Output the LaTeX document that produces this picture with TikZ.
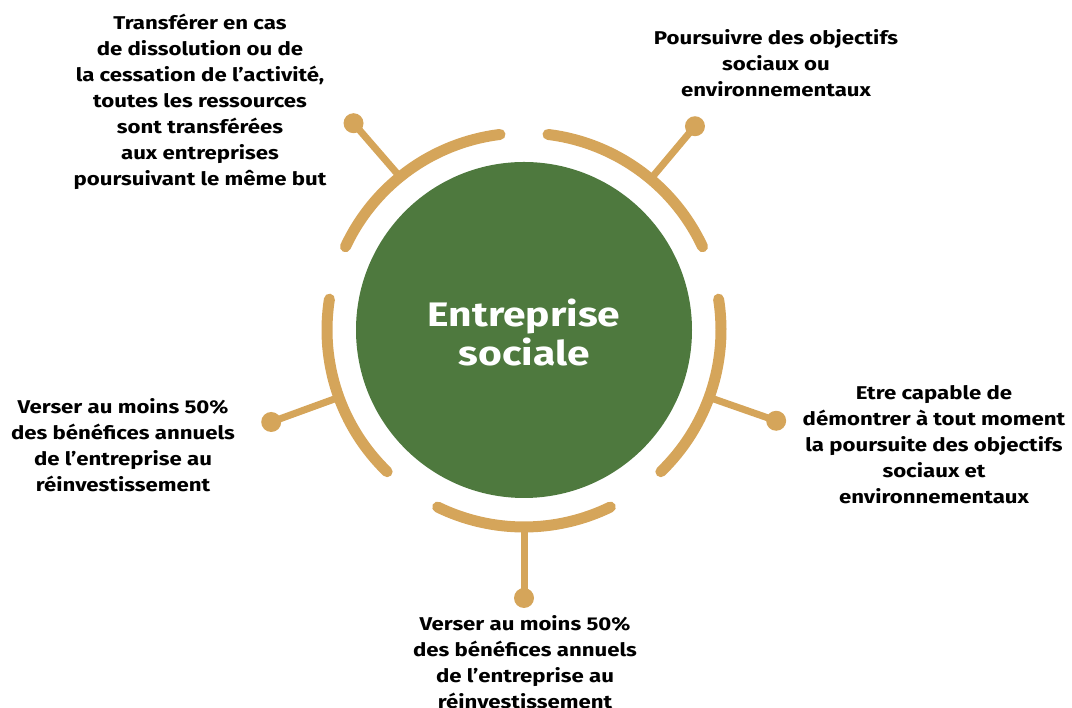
\documentclass[tikz,border=0pt]{standalone}
\usepackage{fontspec}
\setmainfont{Fira Sans}[FakeStretch=1.2]
\usetikzlibrary{calc}
\definecolor{leaf}{HTML}{4E793E}
\definecolor{gold}{HTML}{D5A55A}
\tikzset{
  arcline/.style={draw=gold, line width=11pt, line cap=round},
  spoke/.style={draw=gold, line width=7pt},
  dot/.style={circle, fill=gold, inner sep=0pt, minimum size=20pt},
  lbl/.style={align=center, font=\fontsize{18.5}{26}\selectfont\bfseries, text=black, inner sep=0pt},
}
\begin{document}
\begin{tikzpicture}[x=1pt,y=1pt]
\useasboundingbox (0,0) rectangle (1072,708);
\coordinate (o) at (524,378);
\node[circle, fill=leaf, minimum size=336pt, inner sep=0pt] (c) at (o) {};
\node[align=center, text=white, font=\fontsize{34}{39}\selectfont\bfseries, inner sep=0pt] (title) at (524,375) {Entreprise\\sociale};
% arcs
\draw[arcline] ($(o)+(97:197)$) arc (97:155:197);
\draw[arcline] ($(o)+(25:197)$) arc (25:83:197);
\draw[arcline] ($(o)+(-46:197)$) arc (-46:9:197);
\draw[arcline] ($(o)+(-116:197)$) arc (-116:-64:197);
\draw[arcline] ($(o)+(171:197)$) arc (171:226:197);
% spokes
\coordinate (a1) at ($(o)+(129:197)$);
\coordinate (a2) at ($(o)+(50:197)$);
\coordinate (a3) at ($(o)+(-20:197)$);
\coordinate (a4) at ($(o)+(-90:197)$);
\coordinate (a5) at ($(o)+(200:197)$);
\node[dot] (d1) at ($(o)+(129.5:268)$) {};
\node[dot] (d2) at ($(o)+(50:266)$) {};
\node[dot] (d3) at ($(o)+(-19.8:268)$) {};
\node[dot] (d4) at ($(o)+(-90:268)$) {};
\node[dot] (d5) at ($(o)+(200:269)$) {};
\draw[spoke] (a1) -- (d1.center);
\draw[spoke] (a2) -- (d2.center);
\draw[spoke] (a3) -- (d3.center);
\draw[spoke] (a4) -- (d4.center);
\draw[spoke] (a5) -- (d5.center);
% labels
\node[lbl] (t1) at (200,606) {Transférer en cas\\de dissolution ou de\\la cessation de l'activité,\\toutes les ressources\\sont transférées\\aux entreprises\\poursuivant le même but};
\node[lbl] (t2) at (776,645) {Poursuivre des objectifs\\sociaux ou\\environnementaux};
\node[lbl] (t3) at (934,263) {Etre capable de\\démontrer à tout moment\\la poursuite des objectifs\\sociaux et\\environnementaux};
\node[lbl] (t4) at (123,263) {Verser au moins 50\%\\des bénéfices annuels\\de l'entreprise au\\réinvestissement};
\node[lbl] (t5) at (525,46) {Verser au moins 50\%\\des bénéfices annuels\\de l'entreprise au\\réinvestissement};
\end{tikzpicture}
\end{document}
